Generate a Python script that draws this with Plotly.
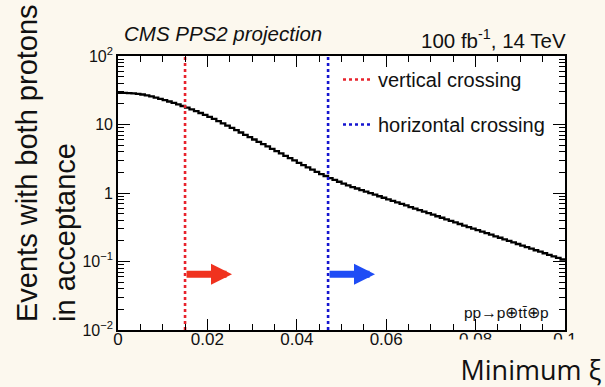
import numpy as np
import plotly.graph_objects as go

# ---------------- data ----------------
bin_width = 0.001
events = [
    28.97, 28.91, 28.77, 28.51, 28.05, 27.42, 26.61, 25.70, 24.72, 23.71,
    22.70, 21.68, 20.65, 19.63, 18.62, 17.62, 16.63, 15.67, 14.72, 13.80,
    12.91, 12.05, 11.22, 10.42, 9.66, 8.93, 8.26, 7.64, 7.06, 6.53,
    6.04, 5.58, 5.16, 4.78, 4.42, 4.08, 3.78, 3.49, 3.23, 2.99,
    2.76, 2.55, 2.36, 2.19, 2.03, 1.89, 1.77, 1.65, 1.55, 1.46,
    1.37, 1.29, 1.22, 1.163, 1.104, 1.048, 0.995, 0.945, 0.897, 0.852,
    0.809, 0.768, 0.729, 0.693, 0.658, 0.624, 0.593, 0.563, 0.535, 0.508,
    0.482, 0.458, 0.435, 0.413, 0.392, 0.372, 0.353, 0.335, 0.318, 0.302,
    0.287, 0.273, 0.259, 0.246, 0.233, 0.222, 0.210, 0.200, 0.190, 0.180,
    0.171, 0.162, 0.154, 0.146, 0.139, 0.132, 0.125, 0.119, 0.113, 0.107,
]
cut_names = ["vertical crossing", "horizontal crossing"]
cut_values = [0.015, 0.047]
cut_colors = ["#e8232d", "#1515d0"]
arrow_colors = ["#f0321e", "#1e4cf5"]
arrow_length = 0.0105
arrow_level = 0.065

x_ticks = [0, 0.02, 0.04, 0.06, 0.08, 0.1]
x_ticktext = ["0", "0.02", "0.04", "0.06", "0.08", "0.1"]
y_ticks = [0.01, 0.1, 1, 10, 100]
y_ticktext = ["10<sup>−2</sup>", "10<sup>−1</sup>", "1", "10", "10<sup>2</sup>"]
y_range = [0.01, 100]
x_range = [0, 0.1]

# ---------------- figure ----------------
n = len(events)
edges = np.arange(n + 1) * bin_width
xs = list(edges)
ys = list(events) + [events[-1]]

fig = go.Figure()
fig.add_trace(go.Scatter(x=xs, y=ys, mode="lines", line=dict(color="black", width=2.3, shape="hv"),
                         showlegend=False, hoverinfo="skip"))

for name, xv, col in zip(cut_names, cut_values, cut_colors):
    fig.add_trace(go.Scatter(x=[xv, xv], y=y_range, mode="lines", name=name, legendgroup=name,
                             line=dict(color=col, width=2.6, dash="dot")))

FONT = "Liberation Sans"
BG = "#fcf8ee"
ann = []
for xv, col in zip(cut_values, arrow_colors):
    ann.append(dict(x=xv + arrow_length, y=np.log10(arrow_level), ax=xv, ay=np.log10(arrow_level),
                    xref="x", yref="y", axref="x", ayref="y", text="", showarrow=True,
                    arrowhead=2, arrowwidth=7, arrowsize=0.6, arrowcolor=col))

L, R, T, B = 118, 40, 56, 57
W, H = 605, 387
pw, ph = W - L - R, H - T - B
def px(xp): return (xp - L) / pw
def py(yp): return (H - B - yp) / ph

ann += [
    dict(text="Events with both protons<br>in acceptance", xref="paper", yref="paper",
         x=px(46), y=py(163), xanchor="center", yanchor="middle", textangle=-90, align="left",
         showarrow=False, font=dict(family=FONT, size=29, color="#111")),
    dict(text="<i>CMS PPS2 projection</i>", xref="paper", yref="paper", x=px(122), y=py(47),
         xanchor="left", yanchor="bottom", showarrow=False, font=dict(family=FONT, size=20.5, color="#111")),
    dict(text="100 fb<sup>-1</sup>, 14 TeV", xref="paper", yref="paper", x=px(568), y=py(54),
         xanchor="right", yanchor="bottom", showarrow=False, font=dict(family=FONT, size=20.5, color="#111")),
    dict(text="pp→p⊕tt̄⊕p", xref="paper", yref="paper", x=px(551), y=py(312),
         xanchor="right", yanchor="middle", showarrow=False, font=dict(family=FONT, size=15.5, color="#111")),
    dict(text="Minimum ξ", xref="paper", yref="paper", x=px(610), y=py(339),
         xanchor="right", yanchor="top", width=152, height=46, borderpad=2, valign="bottom",
         bgcolor=BG, showarrow=False, font=dict(family="Open Sans", size=27, color="#111")),
]

minor_y = [m * 10.0 ** d for d in range(-2, 2) for m in range(2, 10)]

fig.update_layout(
    width=W, height=H, margin=dict(l=L, r=R, t=T, b=B),
    paper_bgcolor=BG, plot_bgcolor="white",
    font=dict(family=FONT, color="#111"),
    annotations=ann,
    showlegend=True,
    legend=dict(x=px(338), y=py(60), xanchor="left", yanchor="top", bgcolor="rgba(0,0,0,0)",
                font=dict(family=FONT, size=20, color="#111"), tracegroupgap=16),
    xaxis=dict(range=x_range, tickvals=x_ticks, ticktext=x_ticktext, ticks="inside", ticklen=11,
               tickcolor="black", tickwidth=1.3, showline=True, linecolor="black", linewidth=1.6,
               mirror="allticks", showgrid=False, zeroline=False, ticklabelstandoff=-7,
               tickfont=dict(family=FONT, size=17, color="#111"),
               minor=dict(dtick=0.005, tick0=0, ticks="inside", ticklen=6, tickcolor="black", tickwidth=1.2,
                          showgrid=False)),
    yaxis=dict(type="log", range=[np.log10(y_range[0]), np.log10(y_range[1])], tickvals=y_ticks,
               ticktext=y_ticktext, ticks="inside", ticklen=12, tickcolor="black", tickwidth=1.3,
               showline=True, linecolor="black", linewidth=1.6, mirror="allticks", showgrid=False,
               zeroline=False, tickfont=dict(family=FONT, size=16, color="#111"),
               minor=dict(tickmode="array", tickvals=minor_y, ticks="inside", ticklen=6,
                          tickcolor="black", tickwidth=1.2, showgrid=False)),
)

fig.write_html("out.html")
